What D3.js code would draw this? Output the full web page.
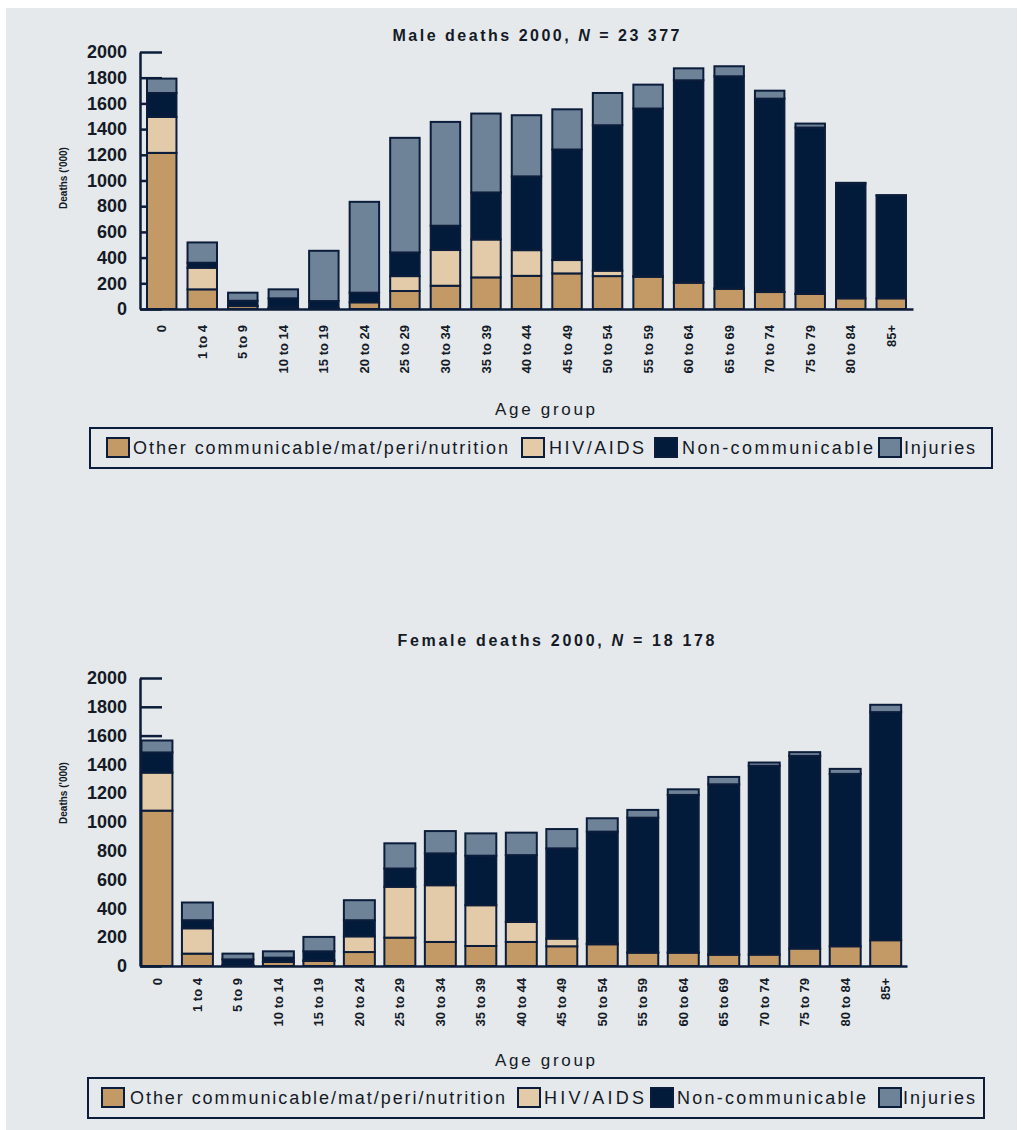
<!DOCTYPE html>
<html>
<head>
<meta charset="utf-8">
<script src="https://cdn.jsdelivr.net/npm/d3@7"></script>
<style>
  body { margin: 0; background: #ffffff; }
  svg { display: block; font-family: "Liberation Sans", Arial, sans-serif; }
</style>
</head>
<body>
<div id="chart"></div>
<script>
// age groups on the x axis
const ageGroups = ["0", "1 to 4", "5 to 9", "10 to 14", "15 to 19", "20 to 24", "25 to 29",
  "30 to 34", "35 to 39", "40 to 44", "45 to 49", "50 to 54", "55 to 59", "60 to 64",
  "65 to 69", "70 to 74", "75 to 79", "80 to 84", "85+"];

const causes = ["Other communicable/mat/peri/nutrition", "HIV/AIDS", "Non-communicable", "Injuries"];
const yTicks = [0, 200, 400, 600, 800, 1000, 1200, 1400, 1600, 1800, 2000];

// male deaths ('000)
const maleOther    = [1215, 153, 23, 8, 5, 52, 140, 181, 246, 258, 277, 256, 251, 205, 158, 132, 117, 83, 83];
const maleHiv      = [280, 168, 2, 2, 2, 0, 116, 278, 295, 200, 104, 42, 5, 3, 2, 1, 1, 0, 0];
const maleNonComm  = [186, 39, 39, 73, 55, 75, 184, 189, 366, 574, 860, 1132, 1304, 1572, 1651, 1504, 1294, 894, 800];
const maleInjuries = [112, 158, 63, 70, 391, 707, 892, 808, 614, 476, 313, 251, 186, 93, 78, 62, 31, 5, 3];

// female deaths ('000)
const femaleOther    = [1079, 86, 3, 28, 35, 97, 197, 167, 139, 167, 137, 151, 93, 93, 79, 79, 121, 137, 179];
const femaleHiv      = [264, 176, 2, 2, 5, 109, 353, 394, 283, 139, 53, 5, 2, 1, 1, 0, 0, 0, 0];
const femaleNonComm  = [140, 56, 41, 28, 62, 112, 127, 221, 344, 464, 627, 777, 935, 1094, 1182, 1311, 1338, 1197, 1584];
const femaleInjuries = [83, 123, 40, 44, 100, 139, 175, 155, 155, 156, 134, 93, 54, 39, 51, 23, 26, 35, 51];

const colors = ["#c39a65", "#e3cba9", "#031b3b", "#6e8298"];
const navy = "#0b1d3a";
const ink = "#141a26";

const W = 1021, H = 1130;
const svg = d3.select("#chart").append("svg").attr("width", W).attr("height", H);

// grey panel
svg.append("rect").attr("x", 6).attr("y", 8).attr("width", 1011).attr("height", H - 8)
  .attr("fill", "#e5e9ec");

function makeRows(other, hiv, nc, inj) {
  return ageGroups.map((g, i) => ({ age: g, c0: other[i], c1: hiv[i], c2: nc[i], c3: inj[i] }));
}

function drawChart(cfg) {
  const g = svg.append("g");
  const rows = makeRows(...cfg.series);
  const stack = d3.stack().keys(["c0", "c1", "c2", "c3"])(rows);

  const x = d3.scaleBand().domain(ageGroups).range([140, cfg.xEnd])
    .paddingInner(cfg.pIn).paddingOuter(cfg.pOut).align(cfg.align);
  const y = d3.scaleLinear().domain([0, 2000]).range([cfg.y0, cfg.y2000]);

  // title
  const t = g.append("text").attr("x", cfg.titleX).attr("y", cfg.titleY)
    .attr("text-anchor", "middle").attr("dy", "0.35em")
    .attr("font-size", 16).attr("font-weight", "bold").attr("fill", ink)
    .attr("textLength", cfg.titleLen).attr("lengthAdjust", "spacing");
  t.append("tspan").text(cfg.title + " 2000, ");
  t.append("tspan").attr("font-style", "italic").text("N");
  t.append("tspan").text(" = " + cfg.n);

  // y axis (inward ticks, drawn under the bars)
  const yAxis = g.append("g").attr("transform", "translate(140,0)")
    .call(d3.axisLeft(y).tickValues(yTicks).tickFormat(d3.format("d"))
      .tickSizeInner(-22).tickSizeOuter(0).tickPadding(13));
  yAxis.select(".domain").attr("stroke", navy).attr("stroke-width", 2.5);
  yAxis.selectAll(".tick line").attr("stroke", navy).attr("stroke-width", 2.5);
  yAxis.selectAll(".tick text").attr("font-size", 18).attr("font-weight", "bold")
    .attr("fill", ink).attr("font-family", "Liberation Sans, Arial, sans-serif");

  g.append("text")
    .attr("transform", `translate(63,${cfg.yLabelY}) rotate(-90)`)
    .attr("text-anchor", "middle").attr("dy", "0.35em")
    .attr("font-size", 10).attr("font-weight", "bold").attr("fill", ink)
    .text("Deaths ('000)");

  // bars
  g.selectAll("g.layer").data(stack).enter().append("g")
    .attr("class", "layer")
    .attr("fill", (d, i) => colors[i])
    .selectAll("rect")
    .data(d => d.filter(s => s[1] - s[0] > 0))
    .enter().append("rect")
    .attr("x", d => x(d.data.age))
    .attr("width", x.bandwidth())
    .attr("y", d => y(d[1]))
    .attr("height", d => y(d[0]) - y(d[1]))
    .attr("stroke", navy).attr("stroke-width", 2);

  // x axis
  const xAxis = g.append("g").attr("transform", `translate(0,${cfg.y0})`)
    .call(d3.axisBottom(x).tickSize(0).tickSizeOuter(0));
  xAxis.select(".domain").attr("stroke", navy).attr("stroke-width", 2.5);
  xAxis.selectAll(".tick text")
    .attr("font-size", 13).attr("font-weight", "bold").attr("fill", ink)
    .attr("font-family", "Liberation Sans, Arial, sans-serif")
    .attr("text-anchor", "end")
    .attr("transform", `translate(0,${cfg.labelTop - cfg.y0}) rotate(-90)`)
    .attr("x", 0).attr("y", 0).attr("dy", "0.35em");

  g.append("text").attr("x", 545).attr("y", cfg.ageY).attr("dy", "0.35em")
    .attr("text-anchor", "middle").attr("font-size", 17).attr("fill", ink)
    .attr("textLength", 100).attr("lengthAdjust", "spacing")
    .text("Age group");

  // legend
  const lg = cfg.legend;
  g.append("rect").attr("x", lg.x0).attr("y", lg.top).attr("width", lg.x1 - lg.x0)
    .attr("height", 40).attr("fill", "none").attr("stroke", navy).attr("stroke-width", 2);
  const items = g.selectAll("g.leg").data(causes).enter().append("g").attr("class", "leg");
  items.append("rect")
    .attr("x", (d, i) => lg.sw[i]).attr("y", lg.top + 10)
    .attr("width", 22).attr("height", 19)
    .attr("fill", (d, i) => colors[i]).attr("stroke", navy).attr("stroke-width", 2);
  items.append("text")
    .attr("x", (d, i) => lg.tx[i]).attr("y", lg.top + 20).attr("dy", "0.35em")
    .attr("font-size", 18).attr("fill", ink)
    .attr("textLength", (d, i) => lg.tw[i]).attr("lengthAdjust", "spacing")
    .text(d => d);
}

drawChart({
  title: "Male deaths", n: "23 377", titleX: 536, titleY: 35, titleLen: 287,
  series: [maleOther, maleHiv, maleNonComm, maleInjuries],
  xEnd: 913, pIn: 0.273, pOut: 0.1726, align: 0.5,
  y0: 309, y2000: 52, yLabelY: 178, labelTop: 325, ageY: 409,
  legend: { x0: 90, x1: 992, top: 428,
    sw: [107, 522, 655, 879], tx: [133, 549, 682, 904], tw: [375, 95, 191, 71] }
});

drawChart({
  title: "Female deaths", n: "18 178", titleX: 556, titleY: 640, titleLen: 317,
  series: [femaleOther, femaleHiv, femaleNonComm, femaleInjuries],
  xEnd: 907, pIn: 0.235, pOut: 0.09, align: 0.2,
  y0: 966, y2000: 678, yLabelY: 793, labelTop: 978, ageY: 1060,
  legend: { x0: 88, x1: 984, top: 1078,
    sw: [102, 518, 651, 879], tx: [130, 544, 677, 903], tw: [375, 100, 189, 72] }
});
</script>
</body>
</html>
